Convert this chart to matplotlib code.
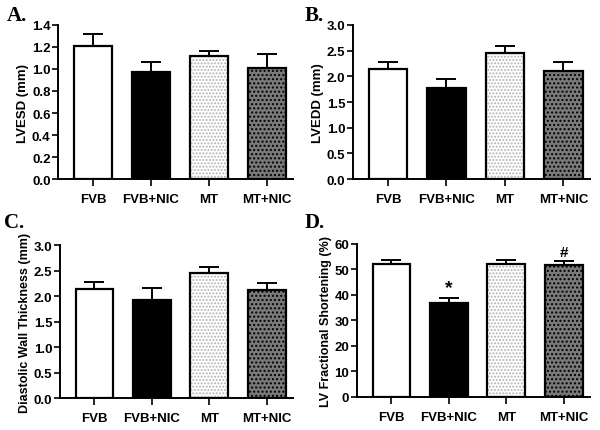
import numpy as np
import matplotlib
matplotlib.use('Agg')
import matplotlib.pyplot as plt

plt.rcParams['font.family'] = ['Liberation Sans', 'DejaVu Sans']
plt.rcParams['hatch.linewidth'] = 1.0

groups = ['FVB', 'FVB+NIC', 'MT', 'MT+NIC']

lvesd = [1.21, 0.97, 1.12, 1.01]
lvesd_err = [0.11, 0.09, 0.04, 0.13]

lvedd = [2.15, 1.77, 2.45, 2.11]
lvedd_err = [0.13, 0.17, 0.13, 0.16]

dwt = [2.14, 1.93, 2.45, 2.11]
dwt_err = [0.14, 0.23, 0.13, 0.15]

fs_pct = [52.2, 36.7, 51.9, 51.5]
fs_pct_err = [1.5, 1.9, 1.7, 1.8]

fsz = 9.5
face = ['white', 'black', 'white', '#7a7a7a']
hatch = [None, None, '.....', '....']
hcol = ['black', 'black', '#b4b4b4', 'black']

def panel(ax, vals, errs, ylab, ymax, ystep, fmt, ylfs):
    x = np.arange(len(groups))
    for i in range(len(groups)):
        ax.bar(x[i], vals[i], width=0.66, color=face[i], edgecolor=hcol[i],
               hatch=hatch[i], linewidth=0, zorder=2)
        ax.bar(x[i], vals[i], width=0.66, color='none', edgecolor='black',
               linewidth=1.6, zorder=3)
    ax.errorbar(x, vals, yerr=[np.zeros(len(vals)), errs], fmt='none',
                ecolor='black', elinewidth=1.4, capsize=7, capthick=1.4, zorder=1)
    ax.set_xlim(-0.6, 3.45)
    ax.set_ylim(0, ymax)
    ax.set_yticks(np.arange(0, ymax + ystep / 2, ystep))
    ax.set_yticklabels([fmt % v for v in np.arange(0, ymax + ystep / 2, ystep)],
                       fontsize=fsz, fontweight='bold')
    ax.set_xticks(x)
    ax.set_xticklabels(groups, fontsize=fsz, fontweight='bold')
    ax.set_ylabel(ylab, fontsize=ylfs, fontweight='bold', labelpad=2)
    ax.spines['top'].set_visible(False)
    ax.spines['right'].set_visible(False)
    ax.spines['left'].set_linewidth(1.4)
    ax.spines['bottom'].set_linewidth(1.4)
    ax.tick_params(axis='both', width=1.2, length=4, pad=1.5)
    ax.tick_params(axis='x', length=5, pad=5)
    return ax

fig = plt.figure(figsize=(6, 4.31), dpi=100)

ax1 = fig.add_axes([0.097, 0.582, 0.391, 0.358])
panel(ax1, lvesd, lvesd_err, 'LVESD (mm)', 1.4, 0.2, '%.1f', 9.5)
ax2 = fig.add_axes([0.588, 0.582, 0.395, 0.358])
panel(ax2, lvedd, lvedd_err, 'LVEDD (mm)', 3.0, 0.5, '%.1f', 9.5)
ax3 = fig.add_axes([0.100, 0.074, 0.388, 0.355])
panel(ax3, dwt, dwt_err, 'Diastolic Wall Thickness (mm)', 3.0, 0.5, '%.1f', 9)
ax4 = fig.add_axes([0.595, 0.077, 0.388, 0.355])
panel(ax4, fs_pct, fs_pct_err, 'LV Fractional Shortening (%)', 60, 10, '%d', 9)

# significance marks
ax4.text(1, fs_pct[1] + fs_pct_err[1] + 0.8, '*', ha='center', va='bottom',
         fontsize=14, fontweight='bold')
ax4.text(3, fs_pct[3] + fs_pct_err[3] + 0.8, '#', ha='center', va='bottom',
         fontsize=11, fontweight='bold')

lbl = dict(fontsize=15, fontweight='bold', family='Liberation Serif', va='top')
fig.text(0.012, 0.985, 'A.', **lbl)
fig.text(0.508, 0.985, 'B.', **lbl)
fig.text(0.006, 0.505, 'C.', **lbl)
fig.text(0.508, 0.505, 'D.', **lbl)

fig.savefig('out.png', dpi=100)
